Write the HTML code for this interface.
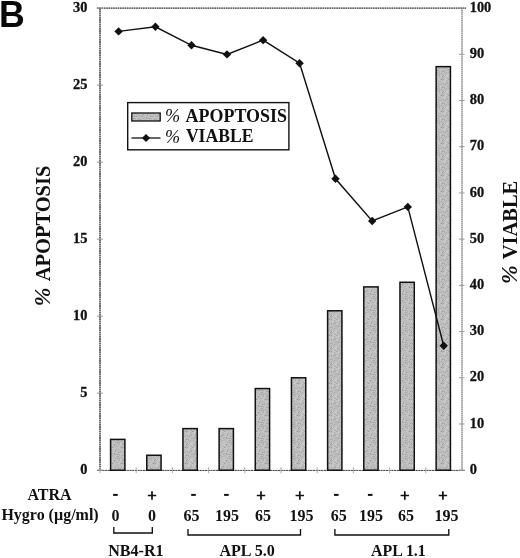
<!DOCTYPE html>
<html><head><meta charset="utf-8"><title>Figure B</title>
<style>html,body{margin:0;padding:0;background:#fff;}body{width:520px;height:558px;overflow:hidden;}svg{display:block;filter:grayscale(1);}text{font-family:"Liberation Serif",serif;font-weight:bold;fill:#111;}</style>
</head><body>
<svg width="520" height="558" viewBox="0 0 520 558">
<defs><pattern id="st" width="16" height="16" patternUnits="userSpaceOnUse"><rect width="16" height="16" fill="#bbbbbb"/><rect x="0" y="0" width="1" height="1" fill="#c6c6c6"/><rect x="1" y="0" width="1" height="1" fill="#bebebe"/><rect x="2" y="0" width="1" height="1" fill="#c6c6c6"/><rect x="3" y="0" width="1" height="1" fill="#c6c6c6"/><rect x="4" y="0" width="1" height="1" fill="#bebebe"/><rect x="5" y="0" width="1" height="1" fill="#b8b8b8"/><rect x="6" y="0" width="1" height="1" fill="#bcbcbc"/><rect x="7" y="0" width="1" height="1" fill="#c0c0c0"/><rect x="8" y="0" width="1" height="1" fill="#bebebe"/><rect x="9" y="0" width="1" height="1" fill="#c6c6c6"/><rect x="10" y="0" width="1" height="1" fill="#b8b8b8"/><rect x="11" y="0" width="1" height="1" fill="#c0c0c0"/><rect x="12" y="0" width="1" height="1" fill="#c4c4c4"/><rect x="13" y="0" width="1" height="1" fill="#c6c6c6"/><rect x="14" y="0" width="1" height="1" fill="#b4b4b4"/><rect x="15" y="0" width="1" height="1" fill="#c0c0c0"/><rect x="0" y="1" width="1" height="1" fill="#c4c4c4"/><rect x="1" y="1" width="1" height="1" fill="#bebebe"/><rect x="2" y="1" width="1" height="1" fill="#c8c8c8"/><rect x="3" y="1" width="1" height="1" fill="#b8b8b8"/><rect x="4" y="1" width="1" height="1" fill="#a2a2a2"/><rect x="5" y="1" width="1" height="1" fill="#c6c6c6"/><rect x="6" y="1" width="1" height="1" fill="#b8b8b8"/><rect x="7" y="1" width="1" height="1" fill="#c0c0c0"/><rect x="8" y="1" width="1" height="1" fill="#b8b8b8"/><rect x="9" y="1" width="1" height="1" fill="#c8c8c8"/><rect x="10" y="1" width="1" height="1" fill="#bebebe"/><rect x="11" y="1" width="1" height="1" fill="#c4c4c4"/><rect x="12" y="1" width="1" height="1" fill="#c8c8c8"/><rect x="13" y="1" width="1" height="1" fill="#c8c8c8"/><rect x="14" y="1" width="1" height="1" fill="#bcbcbc"/><rect x="15" y="1" width="1" height="1" fill="#bcbcbc"/><rect x="0" y="2" width="1" height="1" fill="#b8b8b8"/><rect x="1" y="2" width="1" height="1" fill="#c8c8c8"/><rect x="2" y="2" width="1" height="1" fill="#c6c6c6"/><rect x="3" y="2" width="1" height="1" fill="#aaaaaa"/><rect x="4" y="2" width="1" height="1" fill="#c6c6c6"/><rect x="5" y="2" width="1" height="1" fill="#b8b8b8"/><rect x="6" y="2" width="1" height="1" fill="#bcbcbc"/><rect x="7" y="2" width="1" height="1" fill="#bebebe"/><rect x="8" y="2" width="1" height="1" fill="#bcbcbc"/><rect x="9" y="2" width="1" height="1" fill="#b4b4b4"/><rect x="10" y="2" width="1" height="1" fill="#c6c6c6"/><rect x="11" y="2" width="1" height="1" fill="#c8c8c8"/><rect x="12" y="2" width="1" height="1" fill="#c4c4c4"/><rect x="13" y="2" width="1" height="1" fill="#c6c6c6"/><rect x="14" y="2" width="1" height="1" fill="#b4b4b4"/><rect x="15" y="2" width="1" height="1" fill="#a2a2a2"/><rect x="0" y="3" width="1" height="1" fill="#bebebe"/><rect x="1" y="3" width="1" height="1" fill="#c4c4c4"/><rect x="2" y="3" width="1" height="1" fill="#b4b4b4"/><rect x="3" y="3" width="1" height="1" fill="#aaaaaa"/><rect x="4" y="3" width="1" height="1" fill="#bcbcbc"/><rect x="5" y="3" width="1" height="1" fill="#bebebe"/><rect x="6" y="3" width="1" height="1" fill="#b4b4b4"/><rect x="7" y="3" width="1" height="1" fill="#c8c8c8"/><rect x="8" y="3" width="1" height="1" fill="#c4c4c4"/><rect x="9" y="3" width="1" height="1" fill="#b8b8b8"/><rect x="10" y="3" width="1" height="1" fill="#c4c4c4"/><rect x="11" y="3" width="1" height="1" fill="#a2a2a2"/><rect x="12" y="3" width="1" height="1" fill="#c4c4c4"/><rect x="13" y="3" width="1" height="1" fill="#b4b4b4"/><rect x="14" y="3" width="1" height="1" fill="#a2a2a2"/><rect x="15" y="3" width="1" height="1" fill="#c4c4c4"/><rect x="0" y="4" width="1" height="1" fill="#c8c8c8"/><rect x="1" y="4" width="1" height="1" fill="#c8c8c8"/><rect x="2" y="4" width="1" height="1" fill="#bcbcbc"/><rect x="3" y="4" width="1" height="1" fill="#bcbcbc"/><rect x="4" y="4" width="1" height="1" fill="#c8c8c8"/><rect x="5" y="4" width="1" height="1" fill="#c6c6c6"/><rect x="6" y="4" width="1" height="1" fill="#a2a2a2"/><rect x="7" y="4" width="1" height="1" fill="#a2a2a2"/><rect x="8" y="4" width="1" height="1" fill="#a2a2a2"/><rect x="9" y="4" width="1" height="1" fill="#c4c4c4"/><rect x="10" y="4" width="1" height="1" fill="#b8b8b8"/><rect x="11" y="4" width="1" height="1" fill="#bcbcbc"/><rect x="12" y="4" width="1" height="1" fill="#b4b4b4"/><rect x="13" y="4" width="1" height="1" fill="#aaaaaa"/><rect x="14" y="4" width="1" height="1" fill="#c4c4c4"/><rect x="15" y="4" width="1" height="1" fill="#b4b4b4"/><rect x="0" y="5" width="1" height="1" fill="#aaaaaa"/><rect x="1" y="5" width="1" height="1" fill="#c8c8c8"/><rect x="2" y="5" width="1" height="1" fill="#a2a2a2"/><rect x="3" y="5" width="1" height="1" fill="#c4c4c4"/><rect x="4" y="5" width="1" height="1" fill="#c0c0c0"/><rect x="5" y="5" width="1" height="1" fill="#bcbcbc"/><rect x="6" y="5" width="1" height="1" fill="#c4c4c4"/><rect x="7" y="5" width="1" height="1" fill="#c8c8c8"/><rect x="8" y="5" width="1" height="1" fill="#c8c8c8"/><rect x="9" y="5" width="1" height="1" fill="#c6c6c6"/><rect x="10" y="5" width="1" height="1" fill="#c6c6c6"/><rect x="11" y="5" width="1" height="1" fill="#c0c0c0"/><rect x="12" y="5" width="1" height="1" fill="#bebebe"/><rect x="13" y="5" width="1" height="1" fill="#bcbcbc"/><rect x="14" y="5" width="1" height="1" fill="#c6c6c6"/><rect x="15" y="5" width="1" height="1" fill="#bebebe"/><rect x="0" y="6" width="1" height="1" fill="#bcbcbc"/><rect x="1" y="6" width="1" height="1" fill="#c0c0c0"/><rect x="2" y="6" width="1" height="1" fill="#a2a2a2"/><rect x="3" y="6" width="1" height="1" fill="#a2a2a2"/><rect x="4" y="6" width="1" height="1" fill="#c4c4c4"/><rect x="5" y="6" width="1" height="1" fill="#a2a2a2"/><rect x="6" y="6" width="1" height="1" fill="#a2a2a2"/><rect x="7" y="6" width="1" height="1" fill="#bcbcbc"/><rect x="8" y="6" width="1" height="1" fill="#c8c8c8"/><rect x="9" y="6" width="1" height="1" fill="#b4b4b4"/><rect x="10" y="6" width="1" height="1" fill="#b8b8b8"/><rect x="11" y="6" width="1" height="1" fill="#b4b4b4"/><rect x="12" y="6" width="1" height="1" fill="#c8c8c8"/><rect x="13" y="6" width="1" height="1" fill="#bcbcbc"/><rect x="14" y="6" width="1" height="1" fill="#c0c0c0"/><rect x="15" y="6" width="1" height="1" fill="#a2a2a2"/><rect x="0" y="7" width="1" height="1" fill="#b8b8b8"/><rect x="1" y="7" width="1" height="1" fill="#b8b8b8"/><rect x="2" y="7" width="1" height="1" fill="#c4c4c4"/><rect x="3" y="7" width="1" height="1" fill="#c8c8c8"/><rect x="4" y="7" width="1" height="1" fill="#c0c0c0"/><rect x="5" y="7" width="1" height="1" fill="#bcbcbc"/><rect x="6" y="7" width="1" height="1" fill="#c6c6c6"/><rect x="7" y="7" width="1" height="1" fill="#b4b4b4"/><rect x="8" y="7" width="1" height="1" fill="#c8c8c8"/><rect x="9" y="7" width="1" height="1" fill="#b8b8b8"/><rect x="10" y="7" width="1" height="1" fill="#aaaaaa"/><rect x="11" y="7" width="1" height="1" fill="#b4b4b4"/><rect x="12" y="7" width="1" height="1" fill="#a2a2a2"/><rect x="13" y="7" width="1" height="1" fill="#c4c4c4"/><rect x="14" y="7" width="1" height="1" fill="#c4c4c4"/><rect x="15" y="7" width="1" height="1" fill="#c4c4c4"/><rect x="0" y="8" width="1" height="1" fill="#bcbcbc"/><rect x="1" y="8" width="1" height="1" fill="#b8b8b8"/><rect x="2" y="8" width="1" height="1" fill="#bcbcbc"/><rect x="3" y="8" width="1" height="1" fill="#c8c8c8"/><rect x="4" y="8" width="1" height="1" fill="#b8b8b8"/><rect x="5" y="8" width="1" height="1" fill="#aaaaaa"/><rect x="6" y="8" width="1" height="1" fill="#aaaaaa"/><rect x="7" y="8" width="1" height="1" fill="#b8b8b8"/><rect x="8" y="8" width="1" height="1" fill="#c6c6c6"/><rect x="9" y="8" width="1" height="1" fill="#c0c0c0"/><rect x="10" y="8" width="1" height="1" fill="#b8b8b8"/><rect x="11" y="8" width="1" height="1" fill="#c6c6c6"/><rect x="12" y="8" width="1" height="1" fill="#b8b8b8"/><rect x="13" y="8" width="1" height="1" fill="#c0c0c0"/><rect x="14" y="8" width="1" height="1" fill="#a2a2a2"/><rect x="15" y="8" width="1" height="1" fill="#c0c0c0"/><rect x="0" y="9" width="1" height="1" fill="#c0c0c0"/><rect x="1" y="9" width="1" height="1" fill="#b4b4b4"/><rect x="2" y="9" width="1" height="1" fill="#bcbcbc"/><rect x="3" y="9" width="1" height="1" fill="#b8b8b8"/><rect x="4" y="9" width="1" height="1" fill="#bcbcbc"/><rect x="5" y="9" width="1" height="1" fill="#bcbcbc"/><rect x="6" y="9" width="1" height="1" fill="#c0c0c0"/><rect x="7" y="9" width="1" height="1" fill="#bebebe"/><rect x="8" y="9" width="1" height="1" fill="#bcbcbc"/><rect x="9" y="9" width="1" height="1" fill="#a2a2a2"/><rect x="10" y="9" width="1" height="1" fill="#c6c6c6"/><rect x="11" y="9" width="1" height="1" fill="#b8b8b8"/><rect x="12" y="9" width="1" height="1" fill="#c4c4c4"/><rect x="13" y="9" width="1" height="1" fill="#a2a2a2"/><rect x="14" y="9" width="1" height="1" fill="#c8c8c8"/><rect x="15" y="9" width="1" height="1" fill="#c4c4c4"/><rect x="0" y="10" width="1" height="1" fill="#c4c4c4"/><rect x="1" y="10" width="1" height="1" fill="#c8c8c8"/><rect x="2" y="10" width="1" height="1" fill="#bebebe"/><rect x="3" y="10" width="1" height="1" fill="#b4b4b4"/><rect x="4" y="10" width="1" height="1" fill="#bcbcbc"/><rect x="5" y="10" width="1" height="1" fill="#a2a2a2"/><rect x="6" y="10" width="1" height="1" fill="#b4b4b4"/><rect x="7" y="10" width="1" height="1" fill="#a2a2a2"/><rect x="8" y="10" width="1" height="1" fill="#b8b8b8"/><rect x="9" y="10" width="1" height="1" fill="#c6c6c6"/><rect x="10" y="10" width="1" height="1" fill="#b4b4b4"/><rect x="11" y="10" width="1" height="1" fill="#bebebe"/><rect x="12" y="10" width="1" height="1" fill="#c0c0c0"/><rect x="13" y="10" width="1" height="1" fill="#c4c4c4"/><rect x="14" y="10" width="1" height="1" fill="#c0c0c0"/><rect x="15" y="10" width="1" height="1" fill="#bcbcbc"/><rect x="0" y="11" width="1" height="1" fill="#c6c6c6"/><rect x="1" y="11" width="1" height="1" fill="#bebebe"/><rect x="2" y="11" width="1" height="1" fill="#b8b8b8"/><rect x="3" y="11" width="1" height="1" fill="#b8b8b8"/><rect x="4" y="11" width="1" height="1" fill="#c4c4c4"/><rect x="5" y="11" width="1" height="1" fill="#b4b4b4"/><rect x="6" y="11" width="1" height="1" fill="#bcbcbc"/><rect x="7" y="11" width="1" height="1" fill="#bcbcbc"/><rect x="8" y="11" width="1" height="1" fill="#c8c8c8"/><rect x="9" y="11" width="1" height="1" fill="#c4c4c4"/><rect x="10" y="11" width="1" height="1" fill="#b4b4b4"/><rect x="11" y="11" width="1" height="1" fill="#a2a2a2"/><rect x="12" y="11" width="1" height="1" fill="#c6c6c6"/><rect x="13" y="11" width="1" height="1" fill="#bcbcbc"/><rect x="14" y="11" width="1" height="1" fill="#c8c8c8"/><rect x="15" y="11" width="1" height="1" fill="#c8c8c8"/><rect x="0" y="12" width="1" height="1" fill="#c0c0c0"/><rect x="1" y="12" width="1" height="1" fill="#b4b4b4"/><rect x="2" y="12" width="1" height="1" fill="#aaaaaa"/><rect x="3" y="12" width="1" height="1" fill="#bebebe"/><rect x="4" y="12" width="1" height="1" fill="#b8b8b8"/><rect x="5" y="12" width="1" height="1" fill="#c0c0c0"/><rect x="6" y="12" width="1" height="1" fill="#c4c4c4"/><rect x="7" y="12" width="1" height="1" fill="#aaaaaa"/><rect x="8" y="12" width="1" height="1" fill="#c0c0c0"/><rect x="9" y="12" width="1" height="1" fill="#c6c6c6"/><rect x="10" y="12" width="1" height="1" fill="#aaaaaa"/><rect x="11" y="12" width="1" height="1" fill="#bebebe"/><rect x="12" y="12" width="1" height="1" fill="#b8b8b8"/><rect x="13" y="12" width="1" height="1" fill="#c0c0c0"/><rect x="14" y="12" width="1" height="1" fill="#b8b8b8"/><rect x="15" y="12" width="1" height="1" fill="#c8c8c8"/><rect x="0" y="13" width="1" height="1" fill="#c8c8c8"/><rect x="1" y="13" width="1" height="1" fill="#c6c6c6"/><rect x="2" y="13" width="1" height="1" fill="#aaaaaa"/><rect x="3" y="13" width="1" height="1" fill="#b4b4b4"/><rect x="4" y="13" width="1" height="1" fill="#c8c8c8"/><rect x="5" y="13" width="1" height="1" fill="#c8c8c8"/><rect x="6" y="13" width="1" height="1" fill="#b8b8b8"/><rect x="7" y="13" width="1" height="1" fill="#c4c4c4"/><rect x="8" y="13" width="1" height="1" fill="#c6c6c6"/><rect x="9" y="13" width="1" height="1" fill="#c4c4c4"/><rect x="10" y="13" width="1" height="1" fill="#b4b4b4"/><rect x="11" y="13" width="1" height="1" fill="#aaaaaa"/><rect x="12" y="13" width="1" height="1" fill="#c0c0c0"/><rect x="13" y="13" width="1" height="1" fill="#c4c4c4"/><rect x="14" y="13" width="1" height="1" fill="#c4c4c4"/><rect x="15" y="13" width="1" height="1" fill="#c6c6c6"/><rect x="0" y="14" width="1" height="1" fill="#bebebe"/><rect x="1" y="14" width="1" height="1" fill="#aaaaaa"/><rect x="2" y="14" width="1" height="1" fill="#c8c8c8"/><rect x="3" y="14" width="1" height="1" fill="#c0c0c0"/><rect x="4" y="14" width="1" height="1" fill="#aaaaaa"/><rect x="5" y="14" width="1" height="1" fill="#aaaaaa"/><rect x="6" y="14" width="1" height="1" fill="#c4c4c4"/><rect x="7" y="14" width="1" height="1" fill="#c6c6c6"/><rect x="8" y="14" width="1" height="1" fill="#c4c4c4"/><rect x="9" y="14" width="1" height="1" fill="#a2a2a2"/><rect x="10" y="14" width="1" height="1" fill="#c8c8c8"/><rect x="11" y="14" width="1" height="1" fill="#c6c6c6"/><rect x="12" y="14" width="1" height="1" fill="#b8b8b8"/><rect x="13" y="14" width="1" height="1" fill="#c8c8c8"/><rect x="14" y="14" width="1" height="1" fill="#b8b8b8"/><rect x="15" y="14" width="1" height="1" fill="#a2a2a2"/><rect x="0" y="15" width="1" height="1" fill="#a2a2a2"/><rect x="1" y="15" width="1" height="1" fill="#b8b8b8"/><rect x="2" y="15" width="1" height="1" fill="#c8c8c8"/><rect x="3" y="15" width="1" height="1" fill="#b8b8b8"/><rect x="4" y="15" width="1" height="1" fill="#c4c4c4"/><rect x="5" y="15" width="1" height="1" fill="#c4c4c4"/><rect x="6" y="15" width="1" height="1" fill="#c4c4c4"/><rect x="7" y="15" width="1" height="1" fill="#c4c4c4"/><rect x="8" y="15" width="1" height="1" fill="#b4b4b4"/><rect x="9" y="15" width="1" height="1" fill="#a2a2a2"/><rect x="10" y="15" width="1" height="1" fill="#aaaaaa"/><rect x="11" y="15" width="1" height="1" fill="#a2a2a2"/><rect x="12" y="15" width="1" height="1" fill="#b8b8b8"/><rect x="13" y="15" width="1" height="1" fill="#c6c6c6"/><rect x="14" y="15" width="1" height="1" fill="#c6c6c6"/><rect x="15" y="15" width="1" height="1" fill="#c6c6c6"/></pattern></defs>
<rect width="520" height="558" fill="#fff"/>
<text transform="translate(-1.1 27.3) scale(0.965 1.015)" x="0" y="0" style="font-family:'Liberation Sans',sans-serif;font-weight:bold;font-size:37px;fill:#0a0a0a">B</text>
<line x1="97.0" y1="8.1" x2="466" y2="8.1" stroke="#2e2e2e" stroke-width="1.2" stroke-dasharray="1.7 0.6"/>
<line x1="100" y1="8.1" x2="100" y2="470.2" stroke="#4c4c4c" stroke-width="1.6" stroke-dasharray="1.8 0.4"/>
<line x1="462" y1="8.1" x2="462" y2="470.2" stroke="#4a4a4a" stroke-width="0.95" stroke-dasharray="1.5 0.4"/>
<line x1="97.0" y1="470.4" x2="465" y2="470.4" stroke="#3c3c3c" stroke-width="1" stroke-dasharray="2.2 0.5"/>
<line x1="96.8" y1="470.20" x2="103.0" y2="470.20" stroke="#999" stroke-width="1"/>
<text x="87.4" y="473.90" font-size="14.4" text-anchor="end" stroke="#111" stroke-width="0.3">0</text>
<line x1="96.8" y1="393.18" x2="103.0" y2="393.18" stroke="#999" stroke-width="1"/>
<text x="87.4" y="396.88" font-size="14.4" text-anchor="end" stroke="#111" stroke-width="0.3">5</text>
<line x1="96.8" y1="316.17" x2="103.0" y2="316.17" stroke="#999" stroke-width="1"/>
<text x="87.4" y="319.87" font-size="14.4" text-anchor="end" stroke="#111" stroke-width="0.3">10</text>
<line x1="96.8" y1="239.15" x2="103.0" y2="239.15" stroke="#999" stroke-width="1"/>
<text x="87.4" y="242.85" font-size="14.4" text-anchor="end" stroke="#111" stroke-width="0.3">15</text>
<line x1="96.8" y1="162.13" x2="103.0" y2="162.13" stroke="#999" stroke-width="1"/>
<text x="87.4" y="165.83" font-size="14.4" text-anchor="end" stroke="#111" stroke-width="0.3">20</text>
<line x1="96.8" y1="85.12" x2="103.0" y2="85.12" stroke="#999" stroke-width="1"/>
<text x="87.4" y="88.82" font-size="14.4" text-anchor="end" stroke="#111" stroke-width="0.3">25</text>
<line x1="96.8" y1="8.10" x2="103.0" y2="8.10" stroke="#999" stroke-width="1"/>
<text x="87.4" y="11.80" font-size="14.4" text-anchor="end" stroke="#111" stroke-width="0.3">30</text>
<line x1="459.0" y1="470.20" x2="464.5" y2="470.20" stroke="#999" stroke-width="1"/>
<text x="469.7" y="473.90" font-size="14.4" stroke="#111" stroke-width="0.3">0</text>
<line x1="459.0" y1="423.99" x2="464.5" y2="423.99" stroke="#999" stroke-width="1"/>
<text x="469.7" y="427.69" font-size="14.4" stroke="#111" stroke-width="0.3">10</text>
<line x1="459.0" y1="377.78" x2="464.5" y2="377.78" stroke="#999" stroke-width="1"/>
<text x="469.7" y="381.48" font-size="14.4" stroke="#111" stroke-width="0.3">20</text>
<line x1="459.0" y1="331.57" x2="464.5" y2="331.57" stroke="#999" stroke-width="1"/>
<text x="469.7" y="335.27" font-size="14.4" stroke="#111" stroke-width="0.3">30</text>
<line x1="459.0" y1="285.36" x2="464.5" y2="285.36" stroke="#999" stroke-width="1"/>
<text x="469.7" y="289.06" font-size="14.4" stroke="#111" stroke-width="0.3">40</text>
<line x1="459.0" y1="239.15" x2="464.5" y2="239.15" stroke="#999" stroke-width="1"/>
<text x="469.7" y="242.85" font-size="14.4" stroke="#111" stroke-width="0.3">50</text>
<line x1="459.0" y1="192.94" x2="464.5" y2="192.94" stroke="#999" stroke-width="1"/>
<text x="469.7" y="196.64" font-size="14.4" stroke="#111" stroke-width="0.3">60</text>
<line x1="459.0" y1="146.73" x2="464.5" y2="146.73" stroke="#999" stroke-width="1"/>
<text x="469.7" y="150.43" font-size="14.4" stroke="#111" stroke-width="0.3">70</text>
<line x1="459.0" y1="100.52" x2="464.5" y2="100.52" stroke="#999" stroke-width="1"/>
<text x="469.7" y="104.22" font-size="14.4" stroke="#111" stroke-width="0.3">80</text>
<line x1="459.0" y1="54.31" x2="464.5" y2="54.31" stroke="#999" stroke-width="1"/>
<text x="469.7" y="58.01" font-size="14.4" stroke="#111" stroke-width="0.3">90</text>
<line x1="459.0" y1="8.10" x2="464.5" y2="8.10" stroke="#999" stroke-width="1"/>
<text x="469.7" y="11.80" font-size="14.4" stroke="#111" stroke-width="0.3">100</text>
<line x1="100.00" y1="467.2" x2="100.00" y2="473.2" stroke="#aaa" stroke-width="1"/>
<line x1="136.20" y1="467.2" x2="136.20" y2="473.2" stroke="#aaa" stroke-width="1"/>
<line x1="172.40" y1="467.2" x2="172.40" y2="473.2" stroke="#aaa" stroke-width="1"/>
<line x1="208.60" y1="467.2" x2="208.60" y2="473.2" stroke="#aaa" stroke-width="1"/>
<line x1="244.80" y1="467.2" x2="244.80" y2="473.2" stroke="#aaa" stroke-width="1"/>
<line x1="281.00" y1="467.2" x2="281.00" y2="473.2" stroke="#aaa" stroke-width="1"/>
<line x1="317.20" y1="467.2" x2="317.20" y2="473.2" stroke="#aaa" stroke-width="1"/>
<line x1="353.40" y1="467.2" x2="353.40" y2="473.2" stroke="#aaa" stroke-width="1"/>
<line x1="389.60" y1="467.2" x2="389.60" y2="473.2" stroke="#aaa" stroke-width="1"/>
<line x1="425.80" y1="467.2" x2="425.80" y2="473.2" stroke="#aaa" stroke-width="1"/>
<rect x="110.60" y="439.39" width="14.3" height="30.81" fill="url(#st)" stroke="#111" stroke-width="1.5"/>
<rect x="146.77" y="455.26" width="14.3" height="14.94" fill="url(#st)" stroke="#111" stroke-width="1.5"/>
<rect x="182.94" y="428.61" width="14.3" height="41.59" fill="url(#st)" stroke="#111" stroke-width="1.5"/>
<rect x="219.11" y="428.61" width="14.3" height="41.59" fill="url(#st)" stroke="#111" stroke-width="1.5"/>
<rect x="255.28" y="388.56" width="14.3" height="81.64" fill="url(#st)" stroke="#111" stroke-width="1.5"/>
<rect x="291.45" y="377.78" width="14.3" height="92.42" fill="url(#st)" stroke="#111" stroke-width="1.5"/>
<rect x="327.62" y="310.78" width="14.3" height="159.42" fill="url(#st)" stroke="#111" stroke-width="1.5"/>
<rect x="363.79" y="286.90" width="14.3" height="183.30" fill="url(#st)" stroke="#111" stroke-width="1.5"/>
<rect x="399.96" y="282.28" width="14.3" height="187.92" fill="url(#st)" stroke="#111" stroke-width="1.5"/>
<rect x="436.13" y="66.63" width="14.3" height="403.57" fill="url(#st)" stroke="#111" stroke-width="1.5"/>
<polyline points="118.60,31.41 155.40,26.78 191.50,45.27 227.00,54.41 263.10,40.15 299.60,63.25 335.50,178.78 372.20,220.97 407.80,206.90 443.70,345.73" fill="none" stroke="#111" stroke-width="1.4"/>
<path d="M114.40 31.41L118.60 27.21L122.80 31.41L118.60 35.61Z" fill="#111"/>
<path d="M151.20 26.78L155.40 22.58L159.60 26.78L155.40 30.98Z" fill="#111"/>
<path d="M187.30 45.27L191.50 41.07L195.70 45.27L191.50 49.47Z" fill="#111"/>
<path d="M222.80 54.41L227.00 50.21L231.20 54.41L227.00 58.61Z" fill="#111"/>
<path d="M258.90 40.15L263.10 35.95L267.30 40.15L263.10 44.35Z" fill="#111"/>
<path d="M295.40 63.25L299.60 59.05L303.80 63.25L299.60 67.45Z" fill="#111"/>
<path d="M331.30 178.78L335.50 174.58L339.70 178.78L335.50 182.98Z" fill="#111"/>
<path d="M368.00 220.97L372.20 216.77L376.40 220.97L372.20 225.17Z" fill="#111"/>
<path d="M403.60 206.90L407.80 202.70L412.00 206.90L407.80 211.10Z" fill="#111"/>
<path d="M439.50 345.73L443.70 341.53L447.90 345.73L443.70 349.93Z" fill="#111"/>
<rect x="127.7" y="102.6" width="161.2" height="47.2" fill="#fff" stroke="#111" stroke-width="1.4"/>
<rect x="131.8" y="113" width="28.4" height="8" fill="url(#st)" stroke="#111" stroke-width="1.3"/>
<line x1="131.5" y1="138" x2="160.5" y2="138" stroke="#111" stroke-width="1.3"/>
<path d="M141.9 138L146 133.9L150.1 138L146 142.1Z" fill="#111"/>
<text x="165" y="121.6" font-size="18.2" style="font-style:italic;font-weight:normal">%</text>
<text x="185.6" y="121.5" font-size="18" textLength="101.4" lengthAdjust="spacingAndGlyphs">APOPTOSIS</text>
<text x="165" y="142.6" font-size="18.2" style="font-style:italic;font-weight:normal">%</text>
<text x="185.9" y="142.4" font-size="18" textLength="67.5" lengthAdjust="spacingAndGlyphs">VIABLE</text>
<g transform="translate(49.8 0) rotate(-90)"><text x="-306.2" y="0" font-size="22.5" style="font-style:italic;font-weight:bold">%</text><text x="-281.3" y="0" font-size="21" textLength="115.6" lengthAdjust="spacingAndGlyphs">APOPTOSIS</text></g>
<g transform="translate(517.4 0) rotate(-90)"><text x="-283.9" y="0" font-size="22.5" style="font-style:italic;font-weight:bold">%</text><text x="-259.3" y="0" font-size="21" textLength="78.6" lengthAdjust="spacingAndGlyphs">VIABLE</text></g>
<text x="27.4" y="500.1" font-size="17" textLength="44.3" lengthAdjust="spacingAndGlyphs">ATRA</text>
<text x="1.4" y="520.1" font-size="17" textLength="97.3" lengthAdjust="spacingAndGlyphs">Hygro (µg/ml)</text>
<rect x="113.10" y="493.9" width="4.6" height="2" fill="#111"/>
<path d="M147.80 495.5h8.4M152.00 491.3v8.4" stroke="#111" stroke-width="1.7" fill="none"/>
<rect x="191.20" y="493.9" width="4.6" height="2" fill="#111"/>
<rect x="224.10" y="493.9" width="4.6" height="2" fill="#111"/>
<path d="M256.80 495.5h8.4M261.00 491.3v8.4" stroke="#111" stroke-width="1.7" fill="none"/>
<path d="M295.60 495.5h8.4M299.80 491.3v8.4" stroke="#111" stroke-width="1.7" fill="none"/>
<rect x="334.00" y="493.9" width="4.6" height="2" fill="#111"/>
<rect x="367.90" y="493.9" width="4.6" height="2" fill="#111"/>
<path d="M400.60 495.5h8.4M404.80 491.3v8.4" stroke="#111" stroke-width="1.7" fill="none"/>
<path d="M438.70 495.5h8.4M442.90 491.3v8.4" stroke="#111" stroke-width="1.7" fill="none"/>
<text x="115.5" y="520.7" font-size="16" text-anchor="middle">0</text>
<text x="151.9" y="520.7" font-size="16" text-anchor="middle">0</text>
<text x="191.5" y="520.7" font-size="16" text-anchor="middle">65</text>
<text x="227.1" y="520.7" font-size="16" text-anchor="middle">195</text>
<text x="263" y="520.7" font-size="16" text-anchor="middle">65</text>
<text x="301.5" y="520.7" font-size="16" text-anchor="middle">195</text>
<text x="338.7" y="520.7" font-size="16" text-anchor="middle">65</text>
<text x="371" y="520.7" font-size="16" text-anchor="middle">195</text>
<text x="406" y="520.7" font-size="16" text-anchor="middle">65</text>
<text x="446.5" y="520.7" font-size="16" text-anchor="middle">195</text>
<path d="M113.8 527V533H152.3V527" fill="none" stroke="#111" stroke-width="1.35"/>
<path d="M188 529V535H300.5V529" fill="none" stroke="#111" stroke-width="1.35"/>
<path d="M334.9 529V535H448.8V529" fill="none" stroke="#111" stroke-width="1.35"/>
<text x="108.2" y="556" font-size="17" textLength="55.5" lengthAdjust="spacingAndGlyphs">NB4-R1</text>
<text x="219.4" y="555.7" font-size="17" textLength="55.5" lengthAdjust="spacingAndGlyphs">APL 5.0</text>
<text x="371" y="556" font-size="17" textLength="54.8" lengthAdjust="spacingAndGlyphs">APL 1.1</text>
</svg>
</body></html>
